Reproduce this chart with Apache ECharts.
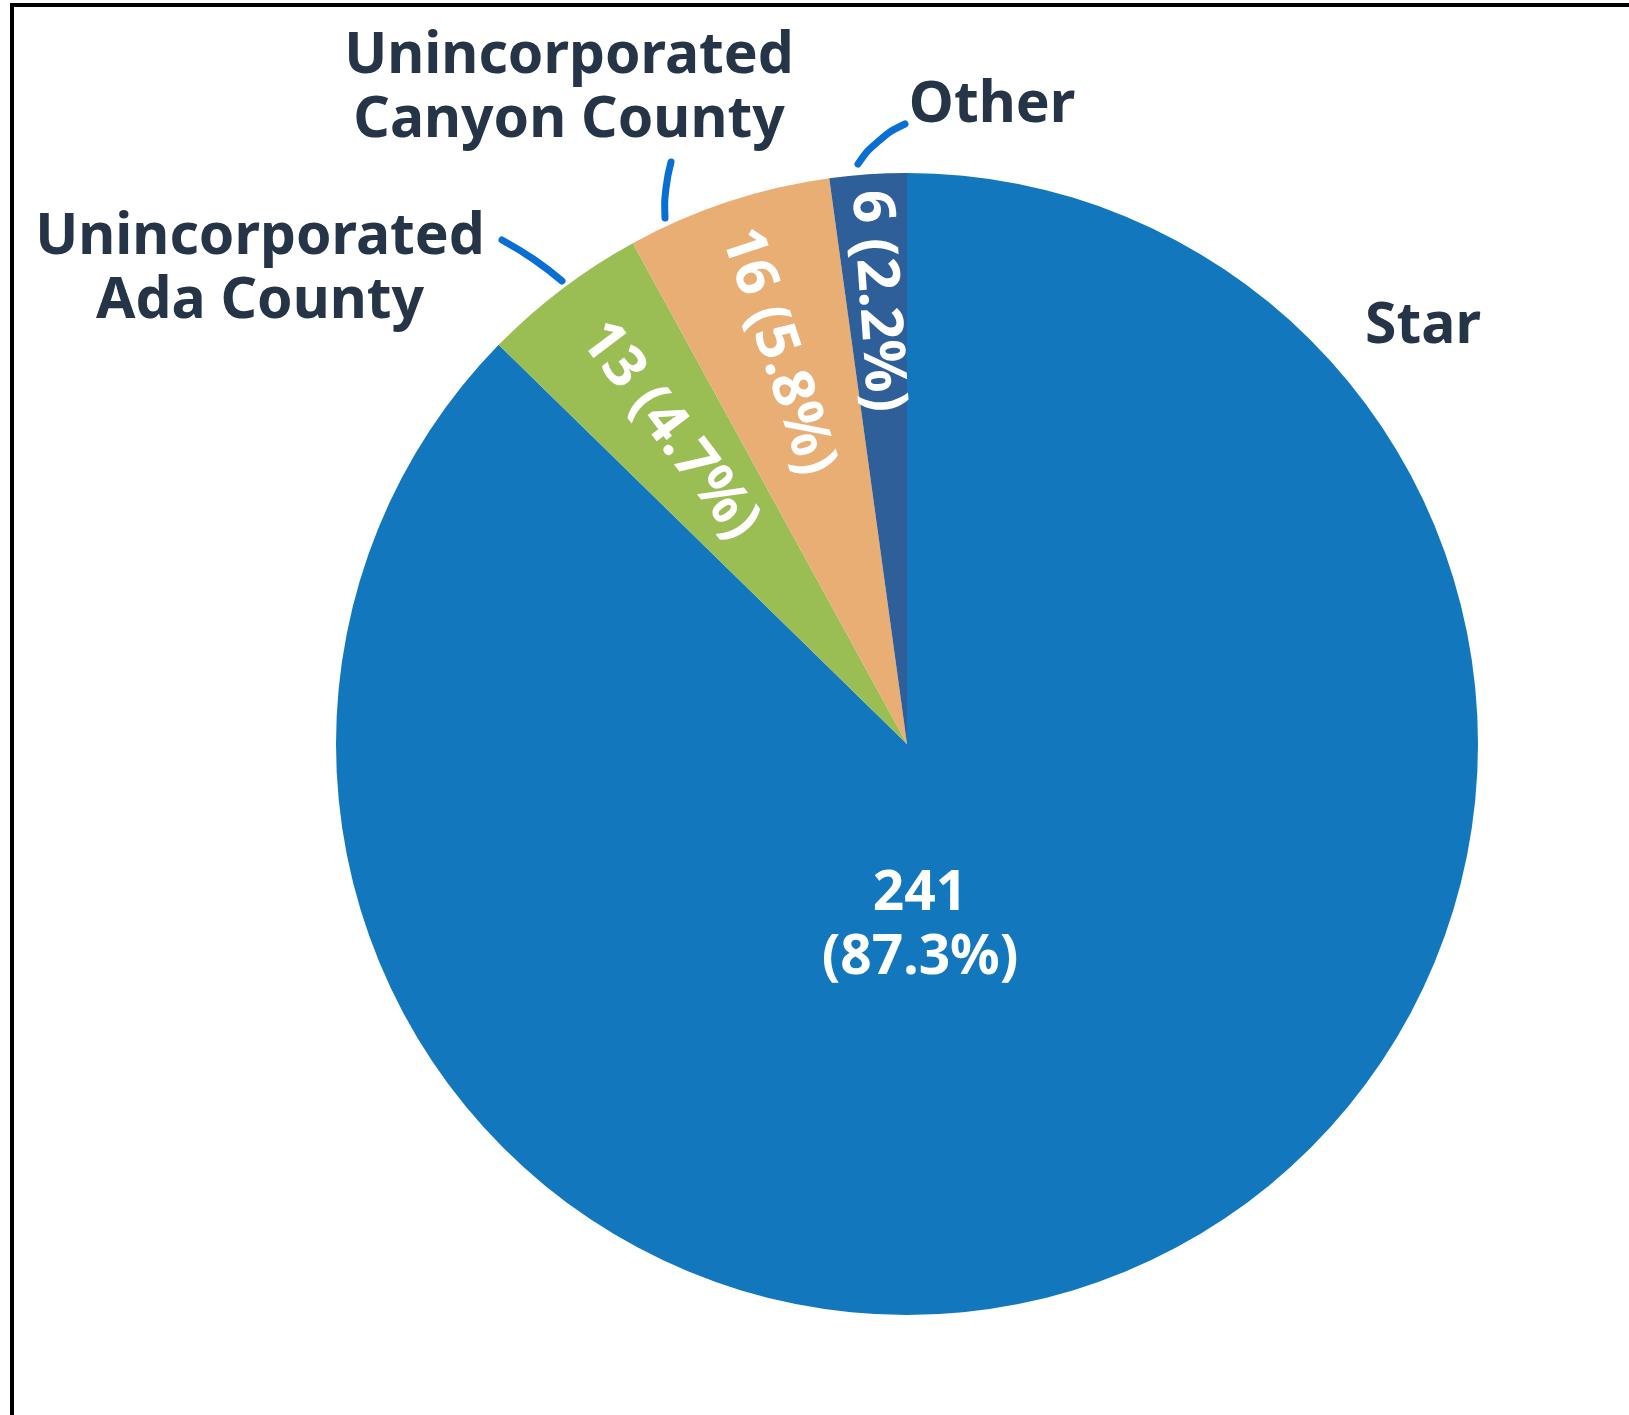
<!DOCTYPE html>
<html><head><meta charset="utf-8">
<script src="https://cdn.jsdelivr.net/npm/echarts@6/dist/echarts.min.js"></script>
<style>html,body{margin:0;padding:0;background:#fff}#c{width:1629px;height:1415px}</style>
</head><body><div id="c"></div>
<script>
// ---- data ----
const categories = ['Star', 'Unincorporated Ada County', 'Unincorporated Canyon County', 'Other'];
const values = [241, 13, 16, 6];
const labelNames = ['Star', 'Unincorporated\nAda County', 'Unincorporated\nCanyon County', 'Other'];

// ---- styles / layout ----
const sliceColors = ['#1277BD', '#9BBE54', '#E9AE73', '#2E5F99'];
const CX = 907, CY = 744, R = 571;
const insideRadius = [null, 393, 413, 444];
const starLabelOffset = [13, 182];
const outerLabelPos = [[1423, 327], [260, 270], [569, 89], [992, 106]];
const leaderLines = [null,
  [[562, 281], [535, 258], [502, 240]],
  [[665, 218], [664, 188], [671, 162]],
  [[858, 164], [876, 138], [905, 124]]];
const FONT = 'Noto Sans';

const total = values.reduce((a, b) => a + b, 0);
function midDeg(i) {
  let before = 0;
  for (let k = 0; k < i; k++) before += values[k];
  return (before + values[i] / 2) / total * 360;
}

const chart = echarts.init(document.getElementById('c'), null, {renderer: 'canvas'});
const mainData = categories.map((n, i) => {
  const item = {name: n, value: values[i], itemStyle: {color: sliceColors[i]}};
  if (i === 0) item.label = {rotate: 0, formatter: '{c}\n({d}%)', fontSize: 55};
  return item;
});
const outerData = categories.map((n, i) => {
  const item = {name: n, value: values[i]};
  if (i === 0) item.labelLine = {show: false};
  return item;
});

chart.setOption({
  backgroundColor: '#ffffff',
  animation: false,
  graphic: [
    {type: 'rect', shape: {x: 10, y: 3, width: 4, height: 1412}, style: {fill: '#000'}},
    {type: 'rect', shape: {x: 10, y: 3, width: 1619, height: 4}, style: {fill: '#000'}}
  ],
  series: [
    {
      type: 'pie', center: [CX, CY], radius: R, startAngle: 90, clockwise: true,
      percentPrecision: 1, avoidLabelOverlap: false, silent: true,
      emphasis: {disabled: true},
      itemStyle: {borderWidth: 0},
      label: {
        show: true, position: 'inside', rotate: 'radial',
        formatter: '{c} ({d}%)', color: '#ffffff', fontFamily: FONT,
        fontWeight: 'bold', fontSize: 58, lineHeight: 64
      },
      labelLine: {show: false},
      labelLayout: function (p) {
        const i = p.dataIndex;
        if (i === 0) return {x: CX + starLabelOffset[0], y: CY + starLabelOffset[1], align: 'center', verticalAlign: 'middle'};
        const a = midDeg(i) * Math.PI / 180;
        return {x: CX + insideRadius[i] * Math.sin(a), y: CY - insideRadius[i] * Math.cos(a)};
      },
      data: mainData
    },
    {
      type: 'pie', center: [CX, CY], radius: R, startAngle: 90, clockwise: true,
      avoidLabelOverlap: false, silent: true, z: 3,
      emphasis: {disabled: true},
      itemStyle: {color: 'rgba(0,0,0,0)', borderWidth: 0},
      label: {
        show: true, position: 'outside',
        formatter: p => labelNames[p.dataIndex],
        color: '#253446', fontFamily: FONT, fontWeight: 'bold',
        fontSize: 57, lineHeight: 64, align: 'center'
      },
      labelLine: {show: true, smooth: 0.5, length: 10, length2: 10,
        lineStyle: {color: '#0A6FD2', width: 7, cap: 'round'}},
      labelLayout: function (p) {
        const i = p.dataIndex;
        const o = {x: outerLabelPos[i][0], y: outerLabelPos[i][1], align: 'center', verticalAlign: 'middle'};
        if (leaderLines[i]) o.labelLinePoints = leaderLines[i];
        return o;
      },
      data: outerData
    }
  ]
});
</script></body></html>
